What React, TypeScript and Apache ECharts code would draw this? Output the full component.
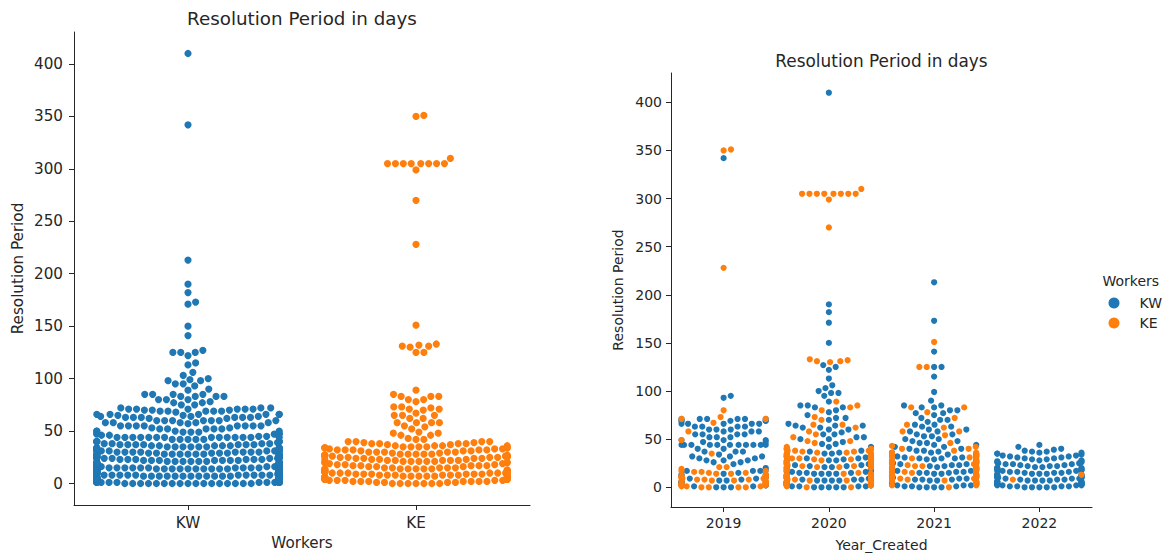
import React, { useEffect, useRef } from 'react';
import * as echarts from 'echarts';

// ---------- data ([value in days, count]) ----------
const workers = ['KW', 'KE'];
const years = ['2019', '2020', '2021', '2022'];
const yTicks = [0, 50, 100, 150, 200, 250, 300, 350, 400];

const kw2019: [number, number][] = [[0,3],[1,2],[2,2],[3,2],[4,2],[5,2],[6,1],[7,2],[8,1],[9,2],[10,1],[11,1],[12,1],[13,2],[14,1],[15,1],[17,3],[18,1],[20,1],[24,1],[26,2],[28,3],[30,2],[32,3],[34,1],[37,3],[40,2],[44,11],[47,2],[49,3],[52,3],[55,4],[58,3],[60,3],[63,4],[66,5],[69,5],[71,6],[93,1],[95,1],[342,1]];
const ke2019: [number, number][] = [[0,4],[1,3],[2,3],[3,2],[4,3],[5,2],[6,3],[7,2],[8,3],[9,2],[10,3],[11,2],[12,2],[13,1],[14,2],[15,2],[16,2],[17,2],[19,1],[21,2],[35,1],[49,1],[58,1],[67,1],[71,2],[73,1],[80,1],[228,1],[350,1],[351,1]];

const kw2020: [number, number][] = [[0,5],[1,4],[2,4],[3,4],[4,3],[5,4],[6,3],[7,4],[8,3],[9,3],[10,4],[11,3],[12,3],[13,3],[14,4],[15,3],[16,3],[17,3],[18,3],[19,2],[20,3],[21,2],[22,2],[23,2],[24,2],[25,2],[26,2],[27,1],[28,2],[29,1],[30,2],[31,1],[32,2],[33,1],[35,2],[36,1],[37,1],[38,1],[40,2],[42,2],[45,2],[47,1],[50,2],[52,2],[55,2],[57,1],[60,2],[62,2],[64,3],[66,1],[70,1],[72,2],[75,1],[78,1],[80,1],[83,2],[85,2],[89,1],[95,1],[98,2],[100,1],[103,1],[106,1],[113,1],[122,1],[125,1],[127,1],[150,1],[171,1],[182,1],[190,1],[410,1]];
const ke2020: [number, number][] = [[0,2],[1,1],[2,2],[3,2],[4,1],[5,2],[6,1],[7,2],[8,2],[9,2],[10,2],[11,2],[12,2],[13,1],[14,2],[15,1],[17,1],[18,1],[20,2],[21,2],[22,3],[23,2],[24,3],[25,3],[26,3],[27,3],[28,3],[29,2],[30,3],[31,2],[32,3],[33,2],[34,3],[35,3],[36,2],[37,2],[38,3],[39,2],[40,2],[42,1],[46,1],[48,2],[52,1],[55,1],[58,1],[62,1],[65,2],[70,1],[73,1],[80,1],[83,1],[85,1],[89,1],[130,1],[131,2],[132,1],[133,1],[270,1],[299,1],[305,8],[310,1]];

const kw2021: [number, number][] = [[0,4],[1,3],[2,3],[3,3],[4,3],[5,3],[6,3],[7,2],[8,3],[9,2],[10,3],[11,2],[12,3],[13,2],[14,2],[15,3],[16,2],[17,2],[18,2],[19,2],[20,3],[21,2],[22,2],[23,2],[24,2],[25,3],[26,2],[27,2],[28,2],[29,2],[30,3],[31,2],[32,2],[33,2],[34,2],[35,2],[36,2],[37,1],[38,2],[40,2],[42,2],[44,2],[46,2],[48,2],[50,2],[53,2],[55,2],[58,2],[60,2],[63,2],[65,2],[68,1],[70,2],[72,1],[75,1],[77,2],[80,2],[83,2],[85,2],[90,1],[99,1],[115,1],[125,2],[141,1],[173,1],[213,1]];
const ke2021: [number, number][] = [[0,1],[2,2],[3,1],[4,2],[5,1],[6,2],[7,1],[8,2],[9,2],[10,1],[11,2],[12,2],[13,1],[14,2],[15,2],[16,1],[17,2],[18,2],[19,1],[20,2],[21,1],[22,2],[23,2],[24,1],[25,2],[26,2],[27,1],[28,2],[30,2],[31,1],[32,2],[33,1],[34,2],[36,2],[38,1],[40,2],[42,1],[43,1],[46,1],[54,1],[58,2],[62,1],[65,1],[72,1],[78,1],[83,2],[125,2],[151,1]];

const kw2022: [number, number][] = [[0,5],[1,4],[2,4],[3,4],[4,4],[5,4],[6,3],[7,4],[8,3],[9,3],[10,4],[11,3],[12,3],[13,3],[14,3],[15,3],[16,3],[17,3],[18,2],[19,3],[20,3],[21,2],[22,3],[23,2],[24,3],[25,2],[26,2],[27,2],[28,2],[29,2],[30,2],[31,2],[32,2],[33,2],[34,1],[35,2],[36,2],[37,2],[38,1],[39,1],[40,1],[42,1],[44,1]];
const ke2022: [number, number][] = [[8,1],[13,1]];

const kwByYear = [kw2019, kw2020, kw2021, kw2022];
const keByYear = [ke2019, ke2020, ke2021, ke2022];

// ---------- layout / style ----------
const COLORS = ['#1f77b4', '#ff7f0e'];
const TEXT = '#262626';
const FONT = 'DejaVu Sans';
const Y_MIN = -20.5;
const Y_MAX = 430.5;
const LEFT = { left: 74, top: 32, width: 456, height: 473 };
const RIGHT = { left: 671, top: 73, width: 421, height: 435 };

function expand(pairs: [number, number][]): number[] {
  const out: number[] = [];
  for (const [v, c] of pairs) for (let i = 0; i < c; i++) out.push(v);
  return out;
}

// seaborn-like beeswarm in pixel space; returns horizontal px offsets
function swarm(values: number[], pxPerUnit: number, d: number, halfW: number): number[] {
  const n = values.length;
  const order = values.map((_, i) => i).sort((a, b) => values[a] - values[b]);
  const res = new Array(n).fill(0);
  const py: number[] = [];
  const px: number[] = [];
  const d2 = d * d;
  for (const idx of order) {
    const y = values[idx] * pxPerUnit;
    const nb: [number, number][] = [];
    for (let j = py.length - 1; j >= 0; j--) {
      const dy = y - py[j];
      if (dy >= d) break;
      nb.push([px[j], dy]);
    }
    const cands = [0];
    for (const [nx, dy] of nb) {
      const dx = Math.sqrt(d2 - dy * dy);
      cands.push(nx + dx, nx - dx);
    }
    cands.sort((a, b) => Math.abs(a) - Math.abs(b));
    let chosen = cands[cands.length - 1];
    for (const c of cands) {
      let ok = true;
      for (const [nx, dy] of nb) {
        const ddx = c - nx;
        if (ddx * ddx + dy * dy < d2 - 1e-6) { ok = false; break; }
      }
      if (ok) { chosen = c; break; }
    }
    py.push(y);
    px.push(chosen);
    res[idx] = chosen;
  }
  return res.map((x) => Math.max(-halfW, Math.min(halfW, x)));
}

function buildOption() {
  // left panel: all years pooled per worker
  const lPxY = LEFT.height / (Y_MAX - Y_MIN);
  const lPxX = LEFT.width / workers.length;
  const leftData = [kwByYear, keByYear].map((byYear, wi) => {
    const vals = byYear.flatMap((p) => expand(p));
    const offs = swarm(vals, lPxY, 7.9, 0.4 * lPxX);
    return vals.map((v, i) => [wi + offs[i] / lPxX, v]);
  });

  // right panel: per year, both workers swarmed together
  const rPxY = RIGHT.height / (Y_MAX - Y_MIN);
  const rPxX = RIGHT.width / years.length;
  const rightData: number[][][] = [[], []];
  years.forEach((_, yi) => {
    const kw = expand(kwByYear[yi]);
    const ke = expand(keByYear[yi]);
    const vals = kw.concat(ke);
    const offs = swarm(vals, rPxY, 7.4, 0.4 * rPxX);
    vals.forEach((v, i) => {
      const w = i < kw.length ? 0 : 1;
      rightData[w].push([yi + offs[i] / rPxX, v]);
    });
  });

  const axisLine = { show: true, onZero: false, lineStyle: { color: TEXT, width: 1 } };
  const axisTickBase = { show: true, length: 5, lineStyle: { color: TEXT, width: 1 } };

  const mkY = (gridIndex: number, fs: number, margin: number, gap: number) => ({
    type: 'value',
    gridIndex,
    min: Y_MIN,
    max: Y_MAX,
    name: 'Resolution Period',
    nameLocation: 'middle',
    nameRotate: 90,
    nameGap: gap,
    nameTextStyle: { fontSize: fs, color: TEXT, fontFamily: FONT },
    axisLine,
    axisTick: { ...axisTickBase, customValues: yTicks },
    axisLabel: { customValues: yTicks, fontSize: fs, color: TEXT, fontFamily: FONT, margin },
    splitLine: { show: false },
  });

  const scatter = (name: string, xi: number, data: number[][], color: string, size: number) => ({
    type: 'scatter',
    name,
    xAxisIndex: xi,
    yAxisIndex: xi,
    data,
    symbol: 'circle',
    symbolSize: size,
    itemStyle: { color, opacity: 1 },
    silent: true,
  });

  return {
    animation: false,
    textStyle: { fontFamily: FONT },
    grid: [
      { ...LEFT },
      { ...RIGHT },
    ],
    xAxis: [
      {
        type: 'value',
        gridIndex: 0,
        min: -0.5,
        max: workers.length - 0.5,
        name: 'Workers',
        nameLocation: 'middle',
        nameGap: 30,
        nameTextStyle: { fontSize: 15.2, color: TEXT, fontFamily: FONT },
        axisLine,
        axisTick: { ...axisTickBase, customValues: workers.map((_, i) => i) },
        axisLabel: {
          customValues: workers.map((_, i) => i),
          formatter: (v: number) => workers[Math.round(v)] ?? '',
          fontSize: 15.2, color: TEXT, fontFamily: FONT, margin: 10,
        },
        splitLine: { show: false },
      },
      {
        type: 'value',
        gridIndex: 1,
        min: -0.5,
        max: years.length - 0.5,
        name: 'Year_Created',
        nameLocation: 'middle',
        nameGap: 31,
        nameTextStyle: { fontSize: 14, color: TEXT, fontFamily: FONT },
        axisLine,
        axisTick: { ...axisTickBase, customValues: years.map((_, i) => i) },
        axisLabel: {
          customValues: years.map((_, i) => i),
          formatter: (v: number) => years[Math.round(v)] ?? '',
          fontSize: 14, color: TEXT, fontFamily: FONT, margin: 9,
        },
        splitLine: { show: false },
      },
    ],
    yAxis: [mkY(0, 15.2, 11, 49), mkY(1, 14, 9, 46)],
    legend: {
      data: workers,
      orient: 'vertical',
      left: 1108.5,
      top: 296,
      padding: 0,
      itemWidth: 11,
      itemHeight: 11,
      itemGap: 6,
      icon: 'circle',
      selectedMode: false,
      textStyle: { fontSize: 14, color: TEXT, fontFamily: FONT, padding: [0, 0, 0, 15] },
    },
    graphic: [
      { type: 'text', x: LEFT.left + LEFT.width / 2, y: 18, style: { text: 'Resolution Period in days', fontSize: 18.3, fontFamily: FONT, fill: TEXT, textAlign: 'center', verticalAlign: 'middle' } },
      { type: 'text', x: RIGHT.left + RIGHT.width / 2, y: 61, style: { text: 'Resolution Period in days', fontSize: 16.9, fontFamily: FONT, fill: TEXT, textAlign: 'center', verticalAlign: 'middle' } },
      { type: 'text', x: 1102.5, y: 281, style: { text: 'Workers', fontSize: 14, fontFamily: FONT, fill: TEXT, textAlign: 'left', verticalAlign: 'middle' } },
    ],
    series: [
      scatter('KW', 0, leftData[0], COLORS[0], 7.2),
      scatter('KE', 0, leftData[1], COLORS[1], 7.2),
      scatter('KW', 1, rightData[0], COLORS[0], 6.2),
      scatter('KE', 1, rightData[1], COLORS[1], 6.2),
    ],
  };
}

export default function App() {
  const ref = useRef<HTMLDivElement>(null);
  useEffect(() => {
    if (!ref.current) return;
    const chart = echarts.init(ref.current, undefined, { renderer: 'svg' });
    chart.setOption(buildOption() as any);
    return () => chart.dispose();
  }, []);
  return (
    <div
      ref={ref}
      style={{ position: 'fixed', left: 0, top: 0, width: 1164, height: 557, background: '#fff' }}
    />
  );
}
